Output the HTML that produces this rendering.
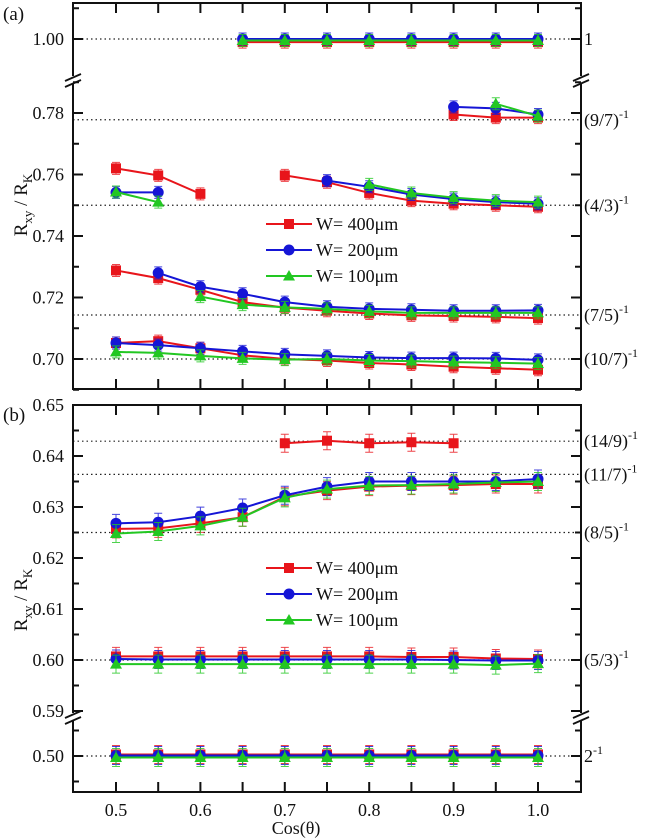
<!DOCTYPE html>
<html><head><meta charset="utf-8"><style>
html,body{margin:0;padding:0;background:#fff}
svg{display:block;font-family:"Liberation Serif",serif}
</style></head><body>
<svg id="chart" width="645" height="838" viewBox="0 0 645 838"></svg>
<script>
const xs=[0.5,0.55,0.6,0.65,0.7,0.75,0.8,0.85,0.9,0.95,1.0];
const N=null;
// Panel (a)
const aRed1=[N,N,N,0.999,0.999,0.999,0.999,0.999,0.999,0.999,0.999];
const aBlue1=[N,N,N,1.0,1.0,1.0,1.0,1.0,1.0,1.0,1.0];
const aGreen1=[N,N,N,0.9995,0.9995,0.9995,0.9995,0.9995,0.9995,0.9995,0.9995];
const aRed2=[N,N,N,N,N,N,N,N,0.7795,0.7785,0.7785];
const aBlue2=[N,N,N,N,N,N,N,N,0.782,0.7815,0.7795];
const aGreen2=[N,N,N,N,N,N,N,N,N,0.783,0.779];
const aRed3=[0.762,0.7597,0.7537,N,0.7597,0.7575,0.754,0.7515,0.7505,0.750,0.7495];
const aBlue3=[0.7542,0.7542,N,N,N,0.758,0.756,0.7535,0.752,0.751,0.7505];
const aGreen3=[0.7543,0.751,N,N,N,N,0.7568,0.754,0.7525,0.7515,0.751];
const aRed4=[0.7288,0.7263,0.7225,0.7185,0.7167,0.7157,0.7148,0.7142,0.714,0.7137,0.7133];
const aBlue4=[N,0.728,0.7235,0.7212,0.7185,0.717,0.7163,0.716,0.7157,0.7157,0.7158];
const aGreen4=[N,N,0.7203,0.7177,0.7168,0.7163,0.7155,0.715,0.715,0.715,0.715];
const aRed5=[0.7052,0.7058,0.7035,0.7012,0.700,0.6995,0.6987,0.6982,0.6975,0.697,0.6965];
const aBlue5=[0.7052,0.7045,0.7035,0.7025,0.7015,0.701,0.7005,0.7003,0.7003,0.7002,0.6997];
const aGreen5=[0.7023,0.702,0.701,0.7002,0.6998,0.7,0.6995,0.6993,0.699,0.6988,0.6985];
// Panel (b)
const bRed1=[N,N,N,N,0.6425,0.643,0.6425,0.6427,0.6425,N,N];
const bRed2=[0.6257,0.6258,0.6268,0.628,0.632,0.6332,0.634,0.6342,0.6343,0.6345,0.6345];
const bBlue2=[0.6268,0.627,0.6282,0.6298,0.6323,0.634,0.635,0.635,0.635,0.635,0.6355];
const bGreen2=[0.6248,0.6252,0.6263,0.628,0.6318,0.6335,0.6342,0.6343,0.6345,0.6348,0.635];
const bRed3=[0.6007,0.6007,0.6007,0.6007,0.6007,0.6007,0.6007,0.6006,0.6006,0.6003,0.6002];
const bBlue3=[0.6002,0.6001,0.6001,0.6001,0.6001,0.6001,0.6001,0.6001,0.6,0.5999,0.5999];
const bGreen3=[0.5992,0.5992,0.5992,0.5992,0.5992,0.5992,0.5992,0.5992,0.5992,0.599,0.5993];
const bRed4=[0.5003,0.5003,0.5003,0.5003,0.5003,0.5003,0.5003,0.5003,0.5003,0.5003,0.5003];
const bBlue4=[0.5001,0.5001,0.5001,0.5001,0.5001,0.5001,0.5001,0.5001,0.5001,0.5001,0.5001];
const bGreen4=[0.4997,0.4997,0.4997,0.4997,0.4997,0.4997,0.4997,0.4997,0.4997,0.4997,0.4997];
const xTicks=[0.5,0.6,0.7,0.8,0.9,1.0];
const aRefs=[1.0,0.7778,0.75,0.7143,0.7];
const aRefLabels=["1","(9/7)","(4/3)","(7/5)","(10/7)"];
const bRefs=[0.6429,0.6364,0.625,0.6,0.5];
const bRefLabels=["(14/9)","(11/7)","(8/5)","(5/3)","2"];
const aLabelTicks=[0.70,0.72,0.74,0.76,0.78];
const bLabelTicks=[0.59,0.60,0.61,0.62,0.63,0.64,0.65];
const legendNames=["W= 400\u03bcm","W= 200\u03bcm","W= 100\u03bcm"];

const RED="#e8151b",BLUE="#1515d6",GREEN="#22c722";
const L=73,R=581;
const X=v=>116+(v-0.5)*844;
const ya=v=>v>0.9?39+(1.0-v)*3075:359-(v-0.7)*3075;
const yb=v=>v>0.55?660-(v-0.6)*5100:756-(v-0.5)*5100;
const svg=document.getElementById('chart');
const NS="http://www.w3.org/2000/svg";
function mk(tag,attrs,parent){const e=document.createElementNS(NS,tag);for(const k in attrs)e.setAttribute(k,attrs[k]);(parent||svg).appendChild(e);return e;}

function panel(top,bot,Y,name){
  const g=mk('g',{});
  
  
  return g;
}
const ga=panel(3,389,ya,'panel-a');
const gb=panel(405,792,yb,'panel-b');

function refLines(g,refs,labels,Y,nm){
  refs.forEach((v,i)=>{
    const y=Y(v);
    const ln=mk('line',{x1:L,x2:R,y1:y,y2:y,stroke:'#222','stroke-width':1.2,'stroke-dasharray':'1.5,3'},g);
    
    
    const t=mk('text',{x:584,y:y+6,'font-size':18,fill:'#111'},g);
    
    
    t.textContent=labels[i];
    if(labels[i]!=="1"){const s=mk('tspan',{dy:-8,'font-size':12},t);s.textContent='-1';}
  });
}
refLines(ga,aRefs,aRefLabels,ya,'a');
refLines(gb,bRefs,bRefLabels,yb,'b');

function series(g,vals,Y,color,shape,nm,err){
  let seg=[];const segs=[];
  vals.forEach((v,i)=>{if(v===null){if(seg.length)segs.push(seg);seg=[];}else seg.push([X(xs[i]),Y(v)]);});
  if(seg.length)segs.push(seg);
  segs.forEach(s=>{
    if(s.length>1){const p=mk('polyline',{points:s.map(q=>q.join(',')).join(' '),fill:'none',stroke:color,'stroke-width':2},g);
    
    }
  });
  vals.forEach((v,i)=>{
    if(v===null)return;
    const x=X(xs[i]),y=Y(v);
    const eb=mk('path',{d:`M${x-4},${y-err}H${x+4}M${x},${y-err}V${y+err}M${x-4},${y+err}H${x+4}`,stroke:color,'stroke-width':1,fill:'none',opacity:0.8},g);
    
    
    let m;
    if(shape==='s')m=mk('rect',{x:x-5,y:y-5,width:10,height:10,fill:color},g);
    else if(shape==='c')m=mk('circle',{cx:x,cy:y,r:5.5,fill:color},g);
    else m=mk('polygon',{points:`${x},${y-6} ${x+6},${y+4.5} ${x-6},${y+4.5}`,fill:color},g);
    
    
  });
}
[[aRed1,aBlue1,aGreen1],[aRed2,aBlue2,aGreen2],[aRed3,aBlue3,aGreen3],[aRed4,aBlue4,aGreen4],[aRed5,aBlue5,aGreen5]].forEach(grp=>{
  series(ga,grp[0],ya,RED,'s','w400',6);series(ga,grp[1],ya,BLUE,'c','w200',6);series(ga,grp[2],ya,GREEN,'t','w100',6);
});
series(gb,bRed1,yb,RED,'s','w400',9);
[[bRed2,bBlue2,bGreen2],[bRed3,bBlue3,bGreen3],[bRed4,bBlue4,bGreen4]].forEach(grp=>{
  series(gb,grp[0],yb,RED,'s','w400',9);series(gb,grp[1],yb,BLUE,'c','w200',9);series(gb,grp[2],yb,GREEN,'t','w100',9);
});

// frames & ticks
function frame(g,top,bot,brk,nm){
  const f=mk('rect',{x:L,y:top,width:R-L,height:bot-top,fill:'none',stroke:'#111','stroke-width':2},g);
  
  
  [L,R].forEach(x=>{
    mk('rect',{x:x-6,y:brk-4,width:12,height:8,fill:'#fff'},g);
    const b=mk('path',{d:`M${x-8},${brk+1}L${x+8},${brk-6}M${x-8},${brk+7}L${x+8},${brk}`,stroke:'#111','stroke-width':1.8},g);
    
    
  });
  for(let v=0.5;v<=1.0001;v+=0.05){
    const x=X(v);
    mk('path',{d:`M${x},${top}v10M${x},${bot}v-10`,stroke:'#111','stroke-width':2},g);
  }
}
frame(ga,3,389,80,'a');
frame(gb,405,792,717,'b');
function ytick(g,y,len){mk('path',{d:`M${L},${y}h${len}M${R},${y}h${-len}`,stroke:'#111','stroke-width':2},g);}
function ylabel(g,y,txt,nm){const t=mk('text',{x:64,y:y+6,'font-size':18,'text-anchor':'end',fill:'#111'},g);t.textContent=txt;
  
  }
aLabelTicks.forEach(v=>{ytick(ga,ya(v),10);ylabel(ga,ya(v),v.toFixed(2),'a');ytick(ga,ya(v-0.01),6);});
ytick(ga,ya(0.79),6);ytick(ga,ya(1.0),10);ylabel(ga,ya(1.0),"1.00",'a');ytick(ga,ya(1.01),6);
bLabelTicks.forEach(v=>{ytick(gb,yb(v),10);ylabel(gb,yb(v),v.toFixed(2),'b');if(v<0.645)ytick(gb,yb(v+0.005),6);});
ytick(gb,yb(0.5),10);ylabel(gb,yb(0.5),"0.50",'b');ytick(gb,yb(0.495),6);ytick(gb,yb(0.505),6);
xTicks.forEach(v=>{const t=mk('text',{x:X(v),y:816,'font-size':18,'text-anchor':'middle',fill:'#111'});t.textContent=v.toFixed(1);
  
  });

// titles
function ytitle(cy,nm){
  const t=mk('text',{x:0,y:0,'font-size':19,'text-anchor':'middle',fill:'#111',transform:`translate(27,${cy}) rotate(-90)`});
  
  
  t.innerHTML='R<tspan dy="5" font-size="13">xy</tspan><tspan dy="-5"> / R</tspan><tspan dy="5" font-size="13">K</tspan>';
}
ytitle(205,'a-y-axis-title');ytitle(600,'b-y-axis-title');
const xt=mk('text',{x:296,y:834,'font-size':18,'text-anchor':'middle',fill:'#111'});xt.textContent='Cos(\u03b8)';


const pa=mk('text',{x:3,y:20,'font-size':19,fill:'#111'});pa.textContent='(a)';


const pb=mk('text',{x:3,y:421,'font-size':19,fill:'#111'});pb.textContent='(b)';



// legends
function legend(g,y0,nm){
  const cols=[RED,BLUE,GREEN],shapes=['s','c','t'];
  legendNames.forEach((n,i)=>{
    const y=y0+i*26,x=289;
    const e=mk('g',{},g);
    
    
    mk('line',{x1:266,x2:312,y1:y,y2:y,stroke:cols[i],'stroke-width':2},e);
    if(shapes[i]==='s')mk('rect',{x:x-5,y:y-5,width:10,height:10,fill:cols[i]},e);
    else if(shapes[i]==='c')mk('circle',{cx:x,cy:y,r:5.5,fill:cols[i]},e);
    else mk('polygon',{points:`${x},${y-6} ${x+6},${y+4.5} ${x-6},${y+4.5}`,fill:cols[i]},e);
    const t=mk('text',{x:316,y:y+6,'font-size':18,fill:'#111'},e);t.textContent=n;
  });
}
legend(ga,224,'a');legend(gb,568,'b');
</script>
</body></html>
